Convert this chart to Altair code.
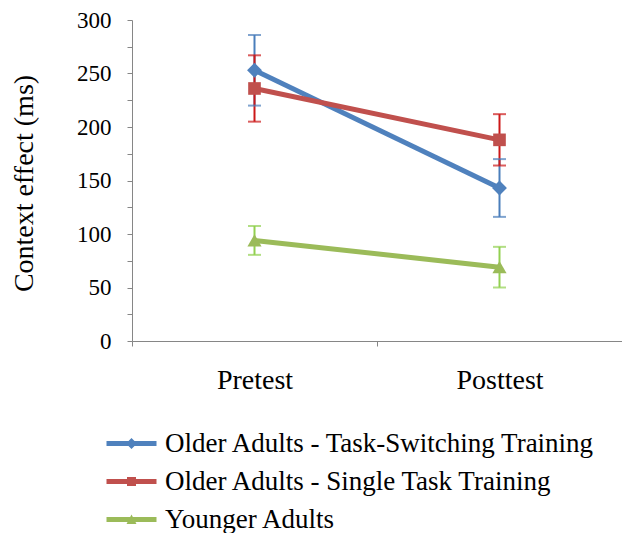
import altair as alt
import pandas as pd

phases = ["Pretest", "Posttest"]
series = [
    "Older Adults - Task-Switching Training",
    "Older Adults - Single Task Training",
    "Younger Adults",
]
means_ts = [253, 143]
err_ts = [33, 27]
means_st = [236, 188]
err_st = [31, 24]
means_ya = [94, 69]
err_ya = [13.5, 19]

line_colors = ["#4F81BD", "#C0504D", "#9BBB59"]
err_colors = ["#4A7EBB", "#CC1818", "#92D050"]
marker_shapes = ["diamond", "square", "triangle-up"]

LINE = "M-2.5,-0.25L2.5,-0.25L2.5,0.25L-2.5,0.25Z"
legend_paths = [
    LINE + "M-0.55,0L0,-0.55L0.55,0L0,0.55Z",
    LINE + "M-0.45,-0.45L0.45,-0.45L0.45,0.45L-0.45,0.45Z",
    LINE + "M-0.5,0.45L0,-0.5L0.5,0.45Z",
]
marker_sizes = [220, 160, 200]

rows = []
for s, m, e in zip(series, [means_ts, means_st, means_ya], [err_ts, err_st, err_ya]):
    for p, mv, ev in zip(phases, m, e):
        rows.append({"series": s, "label": s, "phase": p, "mean": mv,
                     "lo": mv - ev, "hi": mv + ev})
df = pd.DataFrame(rows)

SERIF = "Liberation Serif"
axis_gray = "#868686"

x_enc = alt.X(
    "phase:N",
    sort=phases,
    scale=alt.Scale(type="band", domain=phases, paddingInner=0, paddingOuter=0),
    axis=alt.Axis(
        title=None, labelAngle=0, tickBand="extent", grid=False,
        labelFont=SERIF, labelFontSize=28, labelColor="black",
        labelPadding=20, domainColor=axis_gray, tickColor=axis_gray, tickSize=5,
    ),
)
y_scale = alt.Scale(domain=[0, 300], nice=False, zero=True)
y_axis = alt.Axis(
    values=list(range(0, 301, 25)),
    labelExpr="datum.value % 50 == 0 ? datum.label : ''",
    grid=False, domainColor=axis_gray, tickColor=axis_gray, tickSize=5,
    labelFont=SERIF, labelFontSize=23, labelColor="black", labelPadding=16,
    title="Context effect (ms)", titleFont=SERIF, titleFontSize=28,
    titleFontWeight="normal", titleColor="black",
    titleX=-108, titleY=163, titleBaseline="middle",
)

base = alt.Chart(df)

err_color = alt.Color("series:N", scale=alt.Scale(domain=series, range=err_colors), legend=None)

rules = base.mark_rule(strokeWidth=2).encode(
    x=x_enc, y=alt.Y("lo:Q", scale=y_scale, axis=y_axis), y2="hi:Q", color=err_color)
caps_hi = base.mark_tick(size=13, thickness=2).encode(
    x=x_enc, y=alt.Y("hi:Q", scale=y_scale, axis=y_axis), color=err_color)
caps_lo = base.mark_tick(size=13, thickness=2).encode(
    x=x_enc, y=alt.Y("lo:Q", scale=y_scale, axis=y_axis), color=err_color)

layers = [rules, caps_hi, caps_lo]
for s, c, shp, sz in zip(series, line_colors, marker_shapes, marker_sizes):
    sub = base.transform_filter(alt.datum.series == s)
    ln = sub.mark_line(strokeWidth=5, color=c).encode(
        x=x_enc, y=alt.Y("mean:Q", scale=y_scale, axis=y_axis))
    pt = sub.mark_point(filled=True, opacity=1, color=c, shape=shp, size=sz,
                        strokeWidth=0).encode(
        x=x_enc, y=alt.Y("mean:Q", scale=y_scale, axis=y_axis))
    layers += [ln, pt]

legend_def = alt.Legend(
    title=None, orient="none", legendX=-14, legendY=410, direction="vertical",
    labelFont=SERIF, labelFontSize=27, labelColor="black",
    symbolSize=400, symbolStrokeWidth=0, labelOffset=20, rowPadding=10,
    padding=0, labelLimit=600,
)
legend_layer = base.transform_filter("false").mark_point(filled=True, opacity=1).encode(
    x=x_enc, y=alt.Y("mean:Q", scale=y_scale, axis=y_axis),
    color=alt.Color("label:N", scale=alt.Scale(domain=series, range=line_colors), legend=legend_def),
    shape=alt.Shape("label:N", scale=alt.Scale(domain=series, range=legend_paths), legend=legend_def),
)
layers.append(legend_layer)

chart = alt.layer(*layers).resolve_scale(
    color="independent", shape="independent"
).properties(
    width=490, height=321,
    autosize=alt.AutoSizeParams(type="none"),
    padding={"left": 124, "top": 12, "right": 0, "bottom": 192},
    background="white",
).configure(
    font=SERIF
).configure_axis(labelFont=SERIF).configure_legend(
    labelFont=SERIF
).configure_text(font=SERIF).configure_view(stroke=None)

chart.save("out.html", embed_options={"renderer": "svg", "actions": False})
